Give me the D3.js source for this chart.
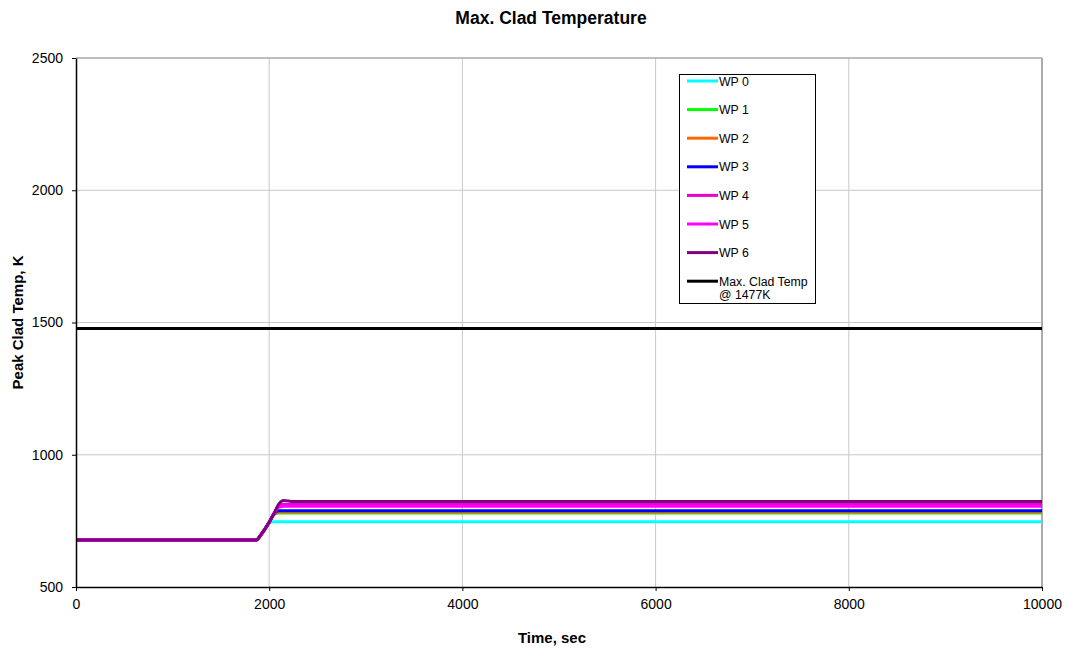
<!DOCTYPE html>
<html>
<head>
<meta charset="utf-8">
<script src="https://cdn.jsdelivr.net/npm/d3@7"></script>
<style>
  body { margin: 0; background: #fff; }
  svg { font-family: "Liberation Sans", Arial, sans-serif; }
</style>
</head>
<body>
<svg id="chart" width="1066" height="650"></svg>
<script>
// Simulation time points (sec)
const times = [0, 1800, 1870, 1900, 1950, 2000, 2050, 2100, 2150, 2250, 10000];

// Peak clad temperature (K) for each case
const wp0 = [678, 678, 678, 690, 716, 742, 747, 747, 747, 747, 747];
const wp1 = [678, 678, 678, 690, 716, 745, 774, 780, 780, 780, 780];
const wp2 = [678, 678, 678, 690, 716, 745, 776, 784, 784, 784, 784];
const wp3 = [678, 678, 678, 690, 716, 745, 777, 788, 788, 788, 788];
const wp4 = [678, 678, 678, 690, 716, 745, 778, 808, 812, 812, 812];
const wp5 = [678, 678, 678, 690, 716, 745, 778, 802, 805, 805, 805];
const wp6 = [678, 678, 678, 690, 716, 745, 778, 814, 827, 823, 823];

// Acceptance limit
const limitTemp = 1477;

const seriesNames = ["WP 0", "WP 1", "WP 2", "WP 3", "WP 4", "WP 5", "WP 6"];
const seriesValues = [wp0, wp1, wp2, wp3, wp4, wp5, wp6];
const seriesColors = ["#00ffff", "#00ff00", "#ff6600", "#0000ff", "#ee00cc", "#ff00ff", "#800080"];

const xTicks = [0, 2000, 4000, 6000, 8000, 10000];
const yTicks = [500, 1000, 1500, 2000, 2500];

const svg = d3.select("#chart");
const plotLeft = 76, plotRight = 1042, plotTop = 58, plotBottom = 587;

const x = d3.scaleLinear().domain([0, 10000]).range([plotLeft, plotRight]);
const y = d3.scaleLinear().domain([500, 2500]).range([plotBottom, plotTop]);

// Grid
const grid = svg.append("g");
grid.selectAll(".vg").data(xTicks.slice(1)).join("line")
  .attr("x1", d => x(d)).attr("x2", d => x(d))
  .attr("y1", plotTop).attr("y2", plotBottom)
  .attr("stroke", "#c8c8c8").attr("stroke-width", 1);
grid.selectAll(".hg").data(yTicks.slice(1)).join("line")
  .attr("x1", plotLeft).attr("x2", plotRight)
  .attr("y1", d => y(d)).attr("y2", d => y(d))
  .attr("stroke", "#c8c8c8").attr("stroke-width", 1);

// Plot frame (top and right)
svg.append("line").attr("x1", plotLeft).attr("x2", plotRight).attr("y1", plotTop).attr("y2", plotTop)
  .attr("stroke", "#999").attr("stroke-width", 1);
svg.append("line").attr("x1", plotRight).attr("x2", plotRight).attr("y1", plotTop).attr("y2", plotBottom)
  .attr("stroke", "#999").attr("stroke-width", 1.5);

// Series lines
const line = d3.line()
  .x((d, i) => x(times[i]))
  .y(d => y(d))
  .curve(d3.curveMonotoneX);

seriesValues.forEach((vals, k) => {
  svg.append("path")
    .datum(vals)
    .attr("d", line)
    .attr("fill", "none")
    .attr("stroke", seriesColors[k])
    .attr("stroke-width", 3);
});

// Limit line
svg.append("line")
  .attr("x1", x(0)).attr("x2", x(10000))
  .attr("y1", y(limitTemp)).attr("y2", y(limitTemp))
  .attr("stroke", "#000").attr("stroke-width", 3);

// Axes
const fmt = d3.format("d");
const xAxis = d3.axisBottom(x).tickValues(xTicks).tickFormat(fmt).tickSize(4).tickSizeOuter(0).tickPadding(5);
const yAxis = d3.axisLeft(y).tickValues(yTicks).tickFormat(fmt).tickSize(4).tickSizeOuter(0).tickPadding(9);

const gx = svg.append("g").attr("transform", `translate(0,${plotBottom})`).call(xAxis);
const gy = svg.append("g").attr("transform", `translate(${plotLeft},0)`).call(yAxis);
[gx, gy].forEach(g => {
  g.select(".domain").attr("stroke", "#000").attr("stroke-width", 1.5);
  g.selectAll(".tick line").attr("stroke", "#000");
  g.selectAll("text").attr("fill", "#000").attr("font-size", 14)
    .attr("font-family", "'Liberation Sans', Arial, sans-serif");
});
gx.selectAll("text").attr("dy", "0.9em");

// Titles
svg.append("text").attr("x", 551).attr("y", 24).attr("text-anchor", "middle")
  .attr("font-size", 17.5).attr("font-weight", "bold").text("Max. Clad Temperature");
svg.append("text").attr("x", 552).attr("y", 643).attr("text-anchor", "middle")
  .attr("font-size", 15).attr("font-weight", "bold").text("Time, sec");
svg.append("text").attr("transform", `translate(23,${(plotTop + plotBottom) / 2}) rotate(-90)`)
  .attr("text-anchor", "middle").attr("font-size", 15).attr("font-weight", "bold")
  .text("Peak Clad Temp, K");

// Legend
const legend = svg.append("g");
legend.append("rect").attr("x", 679.5).attr("y", 74.5).attr("width", 136).attr("height", 229)
  .attr("fill", "#fff").attr("stroke", "#000").attr("stroke-width", 1);

const legendItems = seriesNames.map((n, i) => ({ name: [n], color: seriesColors[i] }));
legendItems.push({ name: ["Max. Clad Temp", "@ 1477K"], color: "#000" });

legendItems.forEach((it, i) => {
  const cy = 81 + i * 28.6;
  legend.append("line").attr("x1", 687).attr("x2", 718).attr("y1", cy).attr("y2", cy)
    .attr("stroke", it.color).attr("stroke-width", 3);
  const t = legend.append("text").attr("x", 719).attr("y", cy + 4.5).attr("font-size", 12.3);
  it.name.forEach((s, j) => {
    t.append("tspan").attr("x", 719).attr("dy", j === 0 ? 0 : 13.5).text(s);
  });
});
</script>
</body>
</html>
